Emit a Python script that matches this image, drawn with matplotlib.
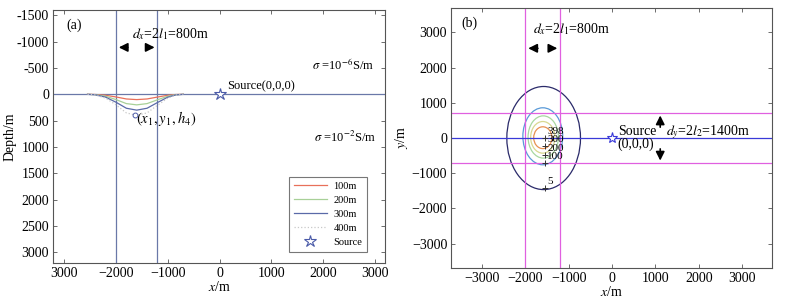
import matplotlib
matplotlib.use("Agg")
import matplotlib.pyplot as plt
from matplotlib.patches import Ellipse
from matplotlib.ticker import FixedLocator, FixedFormatter

plt.rcParams['font.family'] = ['Liberation Serif', 'DejaVu Serif']
plt.rcParams['mathtext.fontset'] = 'stix'
plt.rcParams['font.size'] = 10

# ---- panel (a): depth profiles of the anomaly ----
prof_x = [-2550, -2400, -2200, -2000, -1800, -1600, -1400, -1200, -1000, -850, -700]
depth_100 = [0, 3, 18, 50, 88, 100, 88, 52, 18, 4, 0]
depth_200 = [0, 6, 36, 100, 176, 200, 176, 104, 36, 8, 0]
depth_300 = [0, 9, 54, 150, 264, 300, 264, 156, 54, 12, 0]
depth_400 = [0, 12, 72, 200, 352, 400, 352, 208, 72, 16, 0]
prof_labels = ['100m', '200m', '300m', '400m']
prof_colors = ['#e8705a', '#a8d098', '#5a6aa8', '#c8c8c8']

a_xticks = [-3000, -2000, -1000, 0, 1000, 2000, 3000]
a_xlabels = ['3000', '\u22122000', '\u22121000', '0', '1000', '2000', '3000']
a_yticks = [-1500, -1000, -500, 0, 500, 1000, 1500, 2000, 2500, 3000]
a_ylabels = ['-1500', '-1000', '-500', '0', '500', '1000', '1500', '2000', '2500', '3000']

block_x = [-2000, -1200]
anomaly_pt = (-1630, 400)

# ---- panel (b): plan-view contours ----
levels = [5, 100, 200, 300, 398]
ell_cx = [-1580, -1600, -1590, -1600, -1600]
ell_cy = [0, 50, 30, 20, 10]
ell_w = [1700, 920, 700, 560, 420]
ell_h = [2930, 1620, 1200, 900, 620]
ell_colors = ['#2a2a6a', '#5a9ad8', '#a8d8a0', '#d8d890', '#e89050']
lab_x = [-1550, -1550, -1550, -1550, -1550]
lab_y = [-1420, -720, -480, -240, 0]

b_ticks = [-3000, -2000, -1000, 0, 1000, 2000, 3000]
b_labels = ['\u22123000', '\u22122000', '\u22121000', '0', '1000', '2000', '3000']
b_block_y = [-700, 700]

fig = plt.figure(figsize=(7.85, 3.02), dpi=100)
ax1 = fig.add_axes([0.068, 0.129, 0.422, 0.838])
ax2 = fig.add_axes([0.575, 0.113, 0.409, 0.861])

line_blue = '#6a78a8'
arrow_kw = dict(arrowstyle='-|>', color='black', lw=1.2, mutation_scale=13)
for ax in (ax1, ax2):
    ax.tick_params(direction='in', top=True, right=True, length=3, width=0.6,
                   color='#555555', labelsize=10, pad=3)
    for s in ax.spines.values():
        s.set_color('#555555')
        s.set_linewidth(0.8)

# panel (a)
ax1.axhline(0, color=line_blue, lw=0.9)
for bx in block_x:
    ax1.axvline(bx, color=line_blue, lw=0.9)
depths = [depth_100, depth_200, depth_300, depth_400]
for d, lab, c in zip(depths, prof_labels, prof_colors):
    ls = ':' if lab == '400m' else '-'
    ax1.plot(prof_x, d, color=c, lw=0.9, ls=ls, label=lab)
ax1.plot(0, 0, marker='*', ms=9, mfc='white', mec='#4a5aa8', mew=0.8,
         ls='none', label='Source')
ax1.plot(*anomaly_pt, marker='o', ms=3.5, mfc='white', mec='#4a5aa8', mew=0.7)
ax1.text(-1610, 450, r'$(x_1,y_1,h_4)$', fontsize=10.5, va='center', ha='left')
ax1.text(150, -40, 'Source(0,0,0)', fontsize=9, va='bottom', ha='left')
ax1.text(1780, -550, r'$\sigma$ =10$^{-6}$S/m', fontsize=9, va='center')
ax1.text(1830, 810, r'$\sigma$ =10$^{-2}$S/m', fontsize=9, va='center')
ax1.text(-1700, -1150, r'$d_x$=2$l_1$=800m', fontsize=10, va='center')
ax1.annotate('', xy=(-2000, -890), xytext=(-1720, -890), arrowprops=arrow_kw)
ax1.annotate('', xy=(-1200, -890), xytext=(-1430, -890), arrowprops=arrow_kw)
ax1.text(0.04, 0.965, '(a)', transform=ax1.transAxes, fontsize=10, va='top')
ax1.set_xlim(-3210, 3190)
ax1.set_ylim(3200, -1600)
ax1.xaxis.set_major_locator(FixedLocator(a_xticks))
ax1.xaxis.set_major_formatter(FixedFormatter(a_xlabels))
ax1.yaxis.set_major_locator(FixedLocator(a_yticks))
ax1.yaxis.set_major_formatter(FixedFormatter(a_ylabels))
ax1.set_xlabel(r'$x$/m', fontsize=10, labelpad=0)
ax1.set_ylabel('Depth/m', fontsize=10, labelpad=0)
leg = ax1.legend(loc='lower right', bbox_to_anchor=(0.962, 0.025), fontsize=7.5,
                 handlelength=3.2, frameon=True, fancybox=False, edgecolor='#555555',
                 borderpad=0.45, labelspacing=0.45, handletextpad=0.6)
leg.get_frame().set_linewidth(0.8)

# panel (b)
for bx in block_x:
    ax2.axvline(bx, color='#e060e0', lw=0.9)
for by in b_block_y:
    ax2.axhline(by, color='#e060e0', lw=0.9)
ax2.axhline(0, color='#3a3ad8', lw=0.9)
for cx, cy, w, h, c in zip(ell_cx, ell_cy, ell_w, ell_h, ell_colors):
    ax2.add_patch(Ellipse((cx, cy), w, h, fill=False, ec=c, lw=0.9))
for lx, ly, lv in zip(lab_x, lab_y, levels):
    ax2.plot(lx, ly, marker='+', color='#333333', ms=5, mew=0.7)
    ax2.text(lx + 50, ly + 60, str(lv), fontsize=8, va='bottom', ha='left')
ax2.plot(0, 0, marker='*', ms=8, mfc='white', mec='#3a3ad8', mew=0.8)
ax2.text(130, 0, 'Source\n(0,0,0)', fontsize=10, va='center', ha='left',
         linespacing=1.0)
ax2.annotate('', xy=(1110, 720), xytext=(1110, 230), arrowprops=arrow_kw)
ax2.annotate('', xy=(1110, -720), xytext=(1110, -230), arrowprops=arrow_kw)
ax2.text(1250, 170, r'$d_y$=2$l_2$=1400m', fontsize=10, va='center', ha='left')
ax2.text(-1820, 3090, r'$d_x$=2$l_1$=800m', fontsize=10, va='center')
ax2.annotate('', xy=(-2000, 2550), xytext=(-1650, 2550), arrowprops=arrow_kw)
ax2.annotate('', xy=(-1200, 2550), xytext=(-1480, 2550), arrowprops=arrow_kw)
ax2.text(0.03, 0.965, '(b)', transform=ax2.transAxes, fontsize=10, va='top')
ax2.set_xlim(-3710, 3700)
ax2.set_ylim(-3690, 3700)
ax2.xaxis.set_major_locator(FixedLocator(b_ticks))
ax2.xaxis.set_major_formatter(FixedFormatter(b_labels))
ax2.yaxis.set_major_locator(FixedLocator(b_ticks))
ax2.yaxis.set_major_formatter(FixedFormatter(b_labels))
ax2.set_xlabel(r'$x$/m', fontsize=10, labelpad=0)
ax2.set_ylabel(r'$y$/m', fontsize=10, labelpad=1)

fig.savefig('out.png', dpi=100)
